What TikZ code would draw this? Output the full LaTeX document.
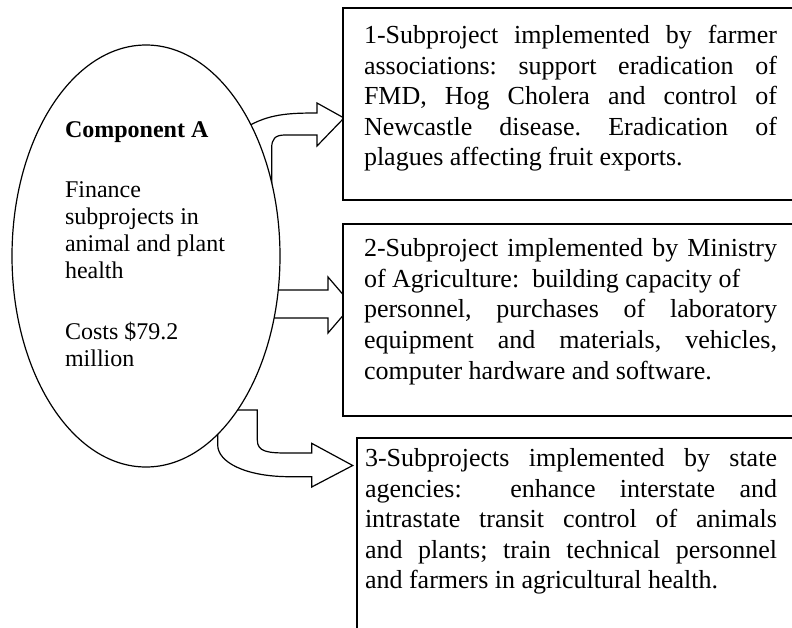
\documentclass[tikz,border=0pt]{standalone}
\usepackage{fontspec}
\setmainfont{Liberation Serif}
\usetikzlibrary{shapes.geometric}
\frenchspacing
\newcommand\bxfont{\fontsize{26}{30.6}\selectfont}
\newcommand\elfont{\fontsize{24}{27}\selectfont}
\begin{document}
\begin{tikzpicture}[x=1pt,y=-1pt,
  blockarrow/.style={draw, line width=1.2pt, fill=white, line join=miter},
  subbox/.style={draw, line width=1.3pt, fill=white, rectangle, anchor=north west,
    inner sep=0pt, outer sep=0pt, minimum width=460pt},
  txt/.style={anchor=base west, inner sep=0pt, outer sep=0pt}]
\useasboundingbox (0,0) rectangle (792,627);
\clip (0,0) rectangle (792,627);
% block arrows (their inner ends are hidden by the ellipse)
\draw[blockarrow] (245,128) .. controls (268,114) and (288,113) .. (317,113)
  -- (317,103) -- (344,118) -- (317,146) -- (317,135) -- (285,135)
  .. controls (275,135) and (271.7,139) .. (271.7,148) -- (271.7,195);
\draw[blockarrow] (262,290) -- (328,290) -- (328,277) -- (352,305)
  -- (328,333) -- (328,318) -- (262,318);
\draw[blockarrow] (225,410) -- (257.3,410) -- (257.3,440)
  .. controls (257.3,452) and (268,453) .. (288,453) -- (311.7,453)
  -- (311.7,443.3) -- (352.7,465.5) -- (311.7,487) -- (311.7,476.7) -- (290,476.7)
  .. controls (245,476.7) and (217.7,462) .. (217.7,445) -- (217.7,420);
% component ellipse
\node[ellipse, draw, line width=1.2pt, fill=white, minimum width=268pt,
  minimum height=422pt, inner sep=0pt] (compA) at (146,256) {};
\node[txt] (compAtext) at (65,137) {\parbox[t]{200pt}{\elfont\raggedright
  \textbf{Component A}\\[33pt]
  Finance\\
  subprojects in\\
  animal and plant\\
  health\\[34pt]
  Costs \$79.2\\
  million}};
% subproject boxes
\node[subbox, minimum height=192pt] (box1) at (343,8) {};
\node[subbox, minimum height=192pt] (box2) at (343,224) {};
\node[subbox, minimum height=220pt] (box3) at (357,438) {};
\node[txt] (text1) at (364,43.5) {\parbox[t]{413pt}{\bxfont
  1-Subproject implemented by farmer\linebreak
  associations: support eradication of\linebreak
  FMD, Hog Cholera and control of\linebreak
  Newcastle disease. Eradication of\linebreak
  plagues affecting fruit exports.}};
\node[txt] (text2) at (364,256.7) {\parbox[t]{413pt}{\bxfont
  2-Subproject implemented by Ministry\linebreak
  of Agriculture: \ building capacity of\newline
  personnel, purchases of laboratory\linebreak
  equipment and materials, vehicles,\linebreak
  computer hardware and software.}};
\node[txt] (text3) at (365,466.5) {\parbox[t]{412pt}{\bxfont
  3-Subprojects implemented by state\linebreak
  agencies: \ enhance interstate and\linebreak
  intrastate transit control of animals\linebreak
  and plants; train technical personnel\linebreak
  and farmers in agricultural health.}};
\end{tikzpicture}
\end{document}
